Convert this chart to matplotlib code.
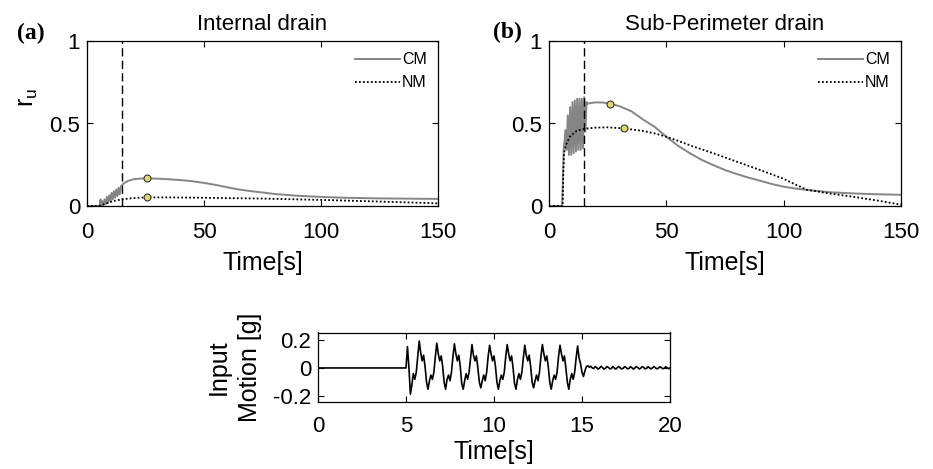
import numpy as np
import matplotlib
matplotlib.use('Agg')
import matplotlib.pyplot as plt

plt.rcParams['font.family'] = ['Liberation Sans', 'DejaVu Sans']
plt.rcParams['mathtext.fontset'] = 'custom'
plt.rcParams['mathtext.rm'] = 'Liberation Sans'

# (a) Internal drain
a_cm_t = [0, 5.0, 5.5, 5.8, 6.0, 6.5, 7.0, 7.5, 8.0, 8.5, 9.0, 9.5, 10.0, 10.5, 11.0, 11.5,
          12.0, 12.5, 13.0, 13.5, 14.0, 14.5, 15.0,
          16, 17.5, 20, 22.5, 25.6, 30, 35, 40, 45, 50, 55, 60, 65, 70, 75, 80, 90, 100,
          110, 125, 150]
a_cm_v = [0, 0, 0.005, 0.04, 0.0, 0.03, 0.0, 0.04, 0.01, 0.055, 0.02, 0.065, 0.03, 0.08,
          0.04, 0.09, 0.05, 0.10, 0.06, 0.11, 0.07, 0.12, 0.127,
          0.14, 0.152, 0.162, 0.166, 0.167, 0.166, 0.162, 0.157, 0.15, 0.14,
          0.128, 0.113, 0.10, 0.09, 0.082, 0.073, 0.062, 0.055, 0.05, 0.046, 0.043]
a_nm_t = [0, 5, 7, 10, 12.5, 15, 18, 22, 25.6, 35, 50, 75, 100, 125, 150]
a_nm_v = [0, 0, 0.01, 0.025, 0.034, 0.04, 0.046, 0.05, 0.052, 0.052, 0.05, 0.045, 0.037,
          0.027, 0.016]
a_peak_t = [25.6, 25.6]
a_peak_v = [0.167, 0.052]

# (b) Sub-Perimeter drain
b_cm_t = [0, 5.6, 6.0, 6.3, 6.5, 7.0, 7.5, 8.0, 8.5, 9.0, 9.5, 10.0, 10.5, 11.0, 11.5,
          12.0, 12.5, 13.0, 13.5, 14.0, 14.5, 15.0, 15.5, 16.0,
          16.5, 18, 20, 23, 26.2, 30, 35, 40, 45, 50, 55, 60, 65, 70, 75, 80, 85,
          90, 95, 100, 105, 110, 115, 120, 130, 140, 150]
b_cm_v = [0, 0, 0.2, 0.36, 0.37, 0.46, 0.34, 0.55, 0.31, 0.60, 0.31, 0.63, 0.32, 0.64,
          0.33, 0.65, 0.34, 0.65, 0.34, 0.65, 0.35, 0.66, 0.45, 0.63,
          0.62, 0.625, 0.628, 0.627, 0.62, 0.605, 0.575, 0.525, 0.48, 0.42, 0.365, 0.32,
          0.28, 0.248, 0.218, 0.194, 0.172, 0.153, 0.133, 0.117, 0.106, 0.097, 0.09,
          0.083, 0.076, 0.071, 0.068]
b_nm_t = [0, 5.8, 6.1, 6.4, 7.2, 8.9, 11.7, 15, 20, 25, 31.9, 40, 45, 50, 55, 61.6, 70,
          75.8, 90, 100, 105, 110, 120, 130, 140, 150]
b_nm_v = [0, 0, 0.2, 0.32, 0.37, 0.42, 0.455, 0.468, 0.475, 0.477, 0.47, 0.455, 0.44,
          0.42, 0.395, 0.36, 0.32, 0.29, 0.218, 0.165, 0.13, 0.098, 0.075, 0.055, 0.033,
          0.008]
b_peak_t = [26.2, 31.9]
b_peak_v = [0.62, 0.47]

# input motion, sampled every 1/12 s from 4.75 s (before that it is 0)
motion_start = 4.75
motion_dt = 1 / 12
motion_g = [
    0, 0, 0, 0.0, 0.15, 0.0, -0.185, -0.12, -0.04, -0.08, -0.03, 0.08,
    0.19, 0.11, 0.05, 0.09, 0.01, -0.10, -0.15, -0.09, -0.05, -0.08, -0.03, 0.08,
    0.175, 0.10, 0.05, 0.085, 0.01, -0.10, -0.15, -0.08, -0.05, -0.09, -0.03, 0.08,
    0.17, 0.10, 0.05, 0.09, 0.01, -0.11, -0.15, -0.09, -0.04, -0.08, -0.03, 0.07,
    0.165, 0.09, 0.05, 0.085, 0.00, -0.10, -0.14, -0.09, -0.05, -0.09, -0.03, 0.08,
    0.16, 0.10, 0.05, 0.085, 0.01, -0.10, -0.15, -0.09, -0.05, -0.08, -0.03, 0.08,
    0.165, 0.10, 0.05, 0.085, 0.00, -0.11, -0.15, -0.08, -0.04, -0.08, -0.03, 0.07,
    0.16, 0.09, 0.05, 0.09, 0.01, -0.10, -0.14, -0.09, -0.05, -0.09, -0.03, 0.08,
    0.165, 0.10, 0.05, 0.085, 0.01, -0.10, -0.15, -0.09, -0.05, -0.08, -0.03, 0.08,
    0.16, 0.10, 0.05, 0.085, 0.00, -0.10, -0.15, -0.08, -0.04, -0.08, -0.03, 0.07,
    0.155, 0.07, 0.03, -0.03, -0.06, -0.02, 0.01, 0.015, 0.005, 0.012, 0.0, -0.004,
    0.01, 0.002, -0.008, 0.0, 0.012, 0.003, -0.008, -0.002, 0.01, 0.004, -0.006, -0.004,
    0.01, 0.0, -0.008, 0.002, 0.011, 0.001, -0.007, -0.003, 0.009, 0.005, -0.006, -0.004,
    0.009, 0.002, -0.008, 0.0, 0.01, 0.003, -0.007, -0.002, 0.009, 0.004, -0.006, -0.003,
    0.009, 0.001, -0.007, 0.001, 0.01, 0.002, -0.006, -0.003, 0.008, 0.004, -0.005, -0.003,
    0.008, 0.002, -0.005, 0.0,
]

GRAY = '#858585'
MARK = '#dcdc6e'
TICK_FS = 16
LABEL_FS = 18


def style_axes(ax, xticks, yticks, ylim):
    ax.set_xlim(xticks[0], xticks[-1])
    ax.set_ylim(*ylim)
    ax.set_xticks(xticks)
    ax.set_yticks(yticks)
    ax.tick_params(direction='in', top=True, right=True, length=4, width=0.8,
                   labelsize=TICK_FS)
    ax.tick_params(axis='y', pad=5)
    for s in ax.spines.values():
        s.set_linewidth(0.9)


def ru_panel(ax, cm_t, cm_v, nm_t, nm_v, pk_t, pk_v, title):
    ax.plot(cm_t, cm_v, color=GRAY, lw=1.4, label='CM')
    ax.plot(nm_t, nm_v, color='black', lw=1.3, ls=(0, (1, 1.2)), label='NM')
    ax.axvline(15, color='black', lw=1.0, ls=(0, (6, 3)))
    ax.plot(pk_t, pk_v, 'o', ms=5, mfc=MARK, mec='#333333', mew=0.8, zorder=5)
    style_axes(ax, [0, 50, 100, 150], [0, 0.5, 1], (0, 1))
    ax.tick_params(axis='x', pad=11.5)
    ax.set_yticklabels(['0', '0.5', '1'])
    ax.set_title(title, fontsize=16, pad=8)
    ax.set_xlabel('Time[s]', fontsize=LABEL_FS, labelpad=6)
    ax.legend(loc='upper right', frameon=False, fontsize=11.5, handlelength=2.8,
              handletextpad=0.15, borderaxespad=0.3, labelspacing=0.5)


fig = plt.figure(figsize=(9.33, 4.69), dpi=100)
ax_a = fig.add_axes([87 / 933, 1 - 206 / 469, 351 / 933, 165 / 469])
ax_b = fig.add_axes([549 / 933, 1 - 206 / 469, 352 / 933, 165 / 469])
ax_c = fig.add_axes([318 / 933, 1 - 402 / 469, 352 / 933, 69.5 / 469])

ru_panel(ax_a, a_cm_t, a_cm_v, a_nm_t, a_nm_v, a_peak_t, a_peak_v, 'Internal drain')
ru_panel(ax_b, b_cm_t, b_cm_v, b_nm_t, b_nm_v, b_peak_t, b_peak_v, 'Sub-Perimeter drain')
ax_a.set_ylabel(r'r$_\mathregular{u}$', fontsize=LABEL_FS)
ax_a.yaxis.set_label_coords(-0.135, 0.66)

motion_t = motion_start + np.arange(len(motion_g)) * motion_dt
ax_c.plot(np.r_[0.0, motion_t], np.r_[0.0, motion_g], color='black', lw=1.2)
style_axes(ax_c, [0, 5, 10, 15, 20], [-0.2, 0, 0.2], (-0.24, 0.25))
ax_c.tick_params(axis='x', pad=10)
ax_c.set_yticklabels(['-0.2', '0', '0.2'])
ax_c.set_xlabel('Time[s]', fontsize=LABEL_FS, labelpad=2)
ax_c.set_ylabel('Input\nMotion [g]', fontsize=LABEL_FS, linespacing=1.35, labelpad=8)

fig.text(17 / 933, 1 - 33 / 469, '(a)', fontsize=17, fontweight='bold',
         family='Liberation Serif', va='center', ha='left')
fig.text(493 / 933, 1 - 32 / 469, '(b)', fontsize=17, fontweight='bold',
         family='Liberation Serif', va='center', ha='left')

fig.savefig('out.png', dpi=100)
